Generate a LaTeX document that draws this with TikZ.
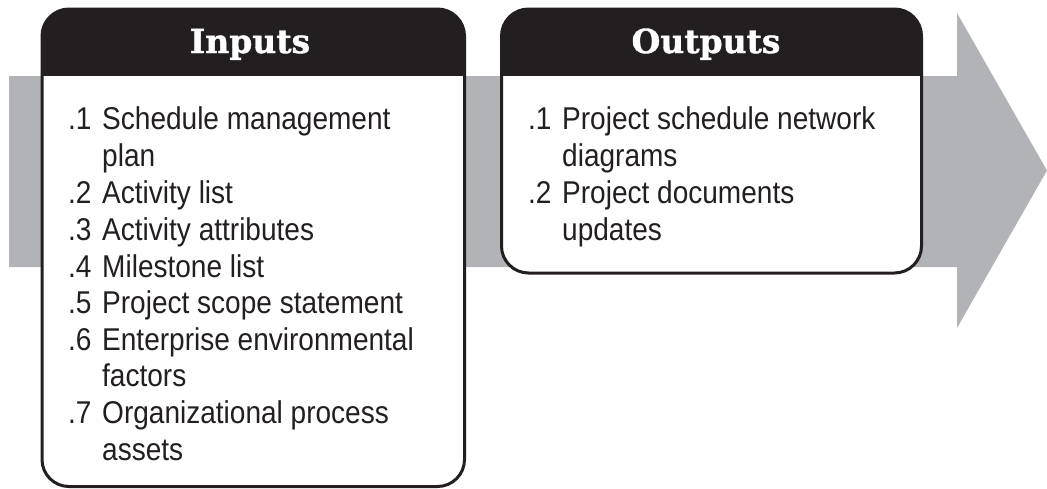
\documentclass[tikz,border=0pt]{standalone}
\usepackage{fontspec}
\setmainfont{Liberation Sans}[FakeStretch=0.89]
\newfontfamily\hdrfont{DejaVu Serif}[BoldFeatures={FakeBold=1.2}]
\definecolor{arrowgray}{HTML}{B1B3B6}
\definecolor{inkblack}{HTML}{231F20}
\begin{document}
\begin{tikzpicture}[x=1pt,y=-1pt,
  txt/.style={anchor=base west, inner sep=0pt, font=\fontsize{31.5}{36.8}\selectfont, text=inkblack},
  hdr/.style={anchor=base, inner sep=0pt, font=\hdrfont\bfseries\fontsize{33}{36}\selectfont, text=white},
  boxline/.style={draw=inkblack, line width=3pt, rounded corners=27pt}]
\useasboundingbox (0,0) rectangle (1047,488);
% big arrow
\fill[arrowgray] (9,76) -- (957,76) -- (957,13) -- (1047,170.5) -- (957,328) -- (957,267) -- (9,267) -- cycle;
% Inputs box
\fill[white, rounded corners=27pt] (42,9) rectangle (464.5,486.5);
\begin{scope}
  \clip[rounded corners=27pt] (42,9) rectangle (464.5,486.5);
  \fill[inkblack] (30,0) rectangle (480,76);
\end{scope}
\draw[boxline] (42,9) rectangle (464.5,486.5);
% Outputs box
\fill[white, rounded corners=27pt] (501.5,9) rectangle (921.5,273);
\begin{scope}
  \clip[rounded corners=27pt] (501.5,9) rectangle (921.5,273);
  \fill[inkblack] (490,0) rectangle (930,76);
\end{scope}
\draw[boxline] (501.5,9) rectangle (921.5,273);
% headers
\node[hdr] (hin) at (250,53) {Inputs};
\node[hdr] (hout) at (706,53) {Outputs};
% inputs list
\node[txt] (n1) at (68,129) {.1};
\node[txt] (t1) at (102,129) {Schedule management};
\node[txt] (t1b) at (102,166) {plan};
\node[txt] (n2) at (68,203) {.2};
\node[txt] (t2) at (102,203) {Activity list};
\node[txt] (n3) at (68,240) {.3};
\node[txt] (t3) at (102,240) {Activity attributes};
\node[txt] (n4) at (68,277) {.4};
\node[txt] (t4) at (102,277) {Milestone list};
\node[txt] (n5) at (68,313) {.5};
\node[txt] (t5) at (102,313) {Project scope statement};
\node[txt] (n6) at (68,350) {.6};
\node[txt] (t6) at (102,350) {Enterprise environmental};
\node[txt] (t6b) at (102,386) {factors};
\node[txt] (n7) at (68,423) {.7};
\node[txt] (t7) at (102,423) {Organizational process};
\node[txt] (t7b) at (102,460) {assets};
% outputs list
\node[txt] (o1) at (528,129) {.1};
\node[txt] (u1) at (562,129) {Project schedule network};
\node[txt] (u1b) at (562,166) {diagrams};
\node[txt] (o2) at (528,203) {.2};
\node[txt] (u2) at (562,203) {Project documents};
\node[txt] (u2b) at (562,240) {updates};
\end{tikzpicture}
\end{document}
